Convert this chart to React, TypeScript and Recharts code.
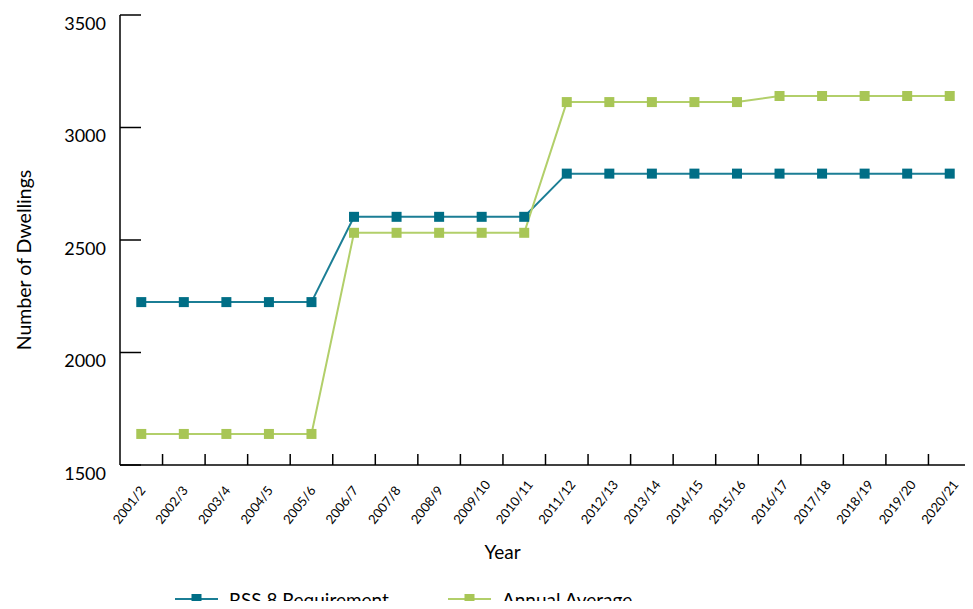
import React from 'react';
import { LineChart, Line, XAxis, YAxis, Legend, Label } from 'recharts';

const years = ['2001/2','2002/3','2003/4','2004/5','2005/6','2006/7','2007/8','2008/9','2009/10','2010/11','2011/12','2012/13','2013/14','2014/15','2015/16','2016/17','2017/18','2018/19','2019/20','2020/21'];
const rssRequirement = [2224,2224,2224,2224,2224,2603,2603,2603,2603,2603,2795,2795,2795,2795,2795,2795,2795,2795,2795,2795];
const annualAverage = [1638,1638,1638,1638,1638,2532,2532,2532,2532,2532,3113,3113,3113,3113,3113,3140,3140,3140,3140,3140];
const yTicks = [1500, 2000, 2500, 3000, 3500];
const seriesOrder = ['rss', 'avg'];

const data = years.map((year, i) => ({ year, rss: rssRequirement[i], avg: annualAverage[i] }));

const FONT = "Lato, 'Open Sans', sans-serif";
const BLUE_MARK = '#006E86';
const BLUE_LINE = '#1B7E95';
const GREEN_MARK = '#A8C656';
const GREEN_LINE = '#B2CF6A';

const SquareDot = (color: string) => (props: any) => {
  const { cx, cy, index } = props;
  if (cx == null || cy == null) return null;
  return <rect key={index} x={cx - 5} y={cy - 5} width={10} height={10} fill={color} />;
};

const XTick = (props: any) => {
  const { x, y, payload, width, visibleTicksCount } = props;
  let half = payload && payload.offset > 0 ? payload.offset : 0;
  if (!half && width && visibleTicksCount) half = width / visibleTicksCount / 2;
  if (!half) half = 851 / 40;
  const sx = x - 22;
  const sy = y + 60;
  return (
    <g>
      <line x1={x + half} y1={y} x2={x + half} y2={y - 11} stroke="#000" strokeWidth={1.5} />
      <text x={sx} y={sy} transform={`rotate(-52, ${sx}, ${sy})`} textAnchor="start" fontSize={13} fontFamily={FONT} fill="#000">
        {payload.value}
      </text>
    </g>
  );
};

const YTick = (props: any) => {
  const { x, y, payload } = props;
  return (
    <text x={x} y={y + 8.5} dy="0.355em" textAnchor="end" fontSize={18} fontFamily={FONT} fill="#000">
      {payload.value}
    </text>
  );
};

const LegendContent = (props: any) => {
  const items = [...(props.payload || [])].sort(
    (a: any, b: any) => seriesOrder.indexOf(a.dataKey) - seriesOrder.indexOf(b.dataKey)
  );
  return (
    <div style={{ height: 26, overflow: 'hidden', display: 'flex', paddingLeft: 175, boxSizing: 'border-box', paddingTop: 6, gap: 59, fontFamily: FONT, fontSize: 19, lineHeight: '19px', color: '#000' }}>
      {items.map((p: any) => {
        const isRss = p.dataKey === 'rss';
        const line = isRss ? BLUE_LINE : GREEN_LINE;
        const mark = isRss ? BLUE_MARK : GREEN_MARK;
        return (
          <div key={p.value} style={{ display: 'flex', alignItems: 'center', gap: 11, whiteSpace: 'nowrap' }}>
            <svg width={43} height={10} style={{ display: 'block' }}>
              <line x1={0} y1={5} x2={43} y2={5} stroke={line} strokeWidth={2} />
              <rect x={16.5} y={0} width={10} height={10} fill={mark} />
            </svg>
            <span>{p.value}</span>
          </div>
        );
      })}
    </div>
  );
};

export default function App() {
  return (
    <div style={{ margin: -8 }}>
      <LineChart width={973} height={609} data={data} margin={{ top: 15, right: 2, left: 0, bottom: 0 }}>
        <XAxis
          dataKey="year"
          type="category"
          scale="band"
          interval={0}
          tickLine={false}
          tickSize={0}
          tickMargin={0}
          tick={<XTick />}
          axisLine={{ stroke: '#000', strokeWidth: 1.5 }}
          height={118}
        >
          <Label
            content={(p: any) => {
              const vb = p.viewBox || {};
              return (
                <text x={vb.x + 382.5} y={vb.y + 94} textAnchor="middle" fontSize={19} fontFamily={FONT} fill="#000">
                  Year
                </text>
              );
            }}
          />
        </XAxis>
        <YAxis
          domain={[1500, 3500]}
          ticks={yTicks}
          interval={0}
          width={120}
          tickSize={-21}
          tickMargin={35}
          tick={<YTick />}
          tickLine={{ stroke: '#000', strokeWidth: 1.5 }}
          axisLine={{ stroke: '#000', strokeWidth: 1.5 }}
        >
          <Label
            content={(p: any) => {
              const vb = p.viewBox || {};
              const cx = vb.x + 24;
              const cy = vb.y + vb.height / 2 + 20;
              return (
                <text x={cx} y={cy} transform={`rotate(-90, ${cx}, ${cy})`} textAnchor="middle" dy="0.355em" fontSize={19.5} fontFamily={FONT} fill="#000">
                  Number of Dwellings
                </text>
              );
            }}
          />
        </YAxis>
        <Legend verticalAlign="bottom" content={<LegendContent />} />
        <Line
          type="linear"
          dataKey="rss"
          name="RSS 8 Requirement"
          stroke={BLUE_LINE}
          strokeWidth={2}
          dot={SquareDot(BLUE_MARK)}
          activeDot={false}
          isAnimationActive={false}
        />
        <Line
          type="linear"
          dataKey="avg"
          name="Annual Average"
          stroke={GREEN_LINE}
          strokeWidth={2}
          dot={SquareDot(GREEN_MARK)}
          activeDot={false}
          isAnimationActive={false}
        />
      </LineChart>
    </div>
  );
}
